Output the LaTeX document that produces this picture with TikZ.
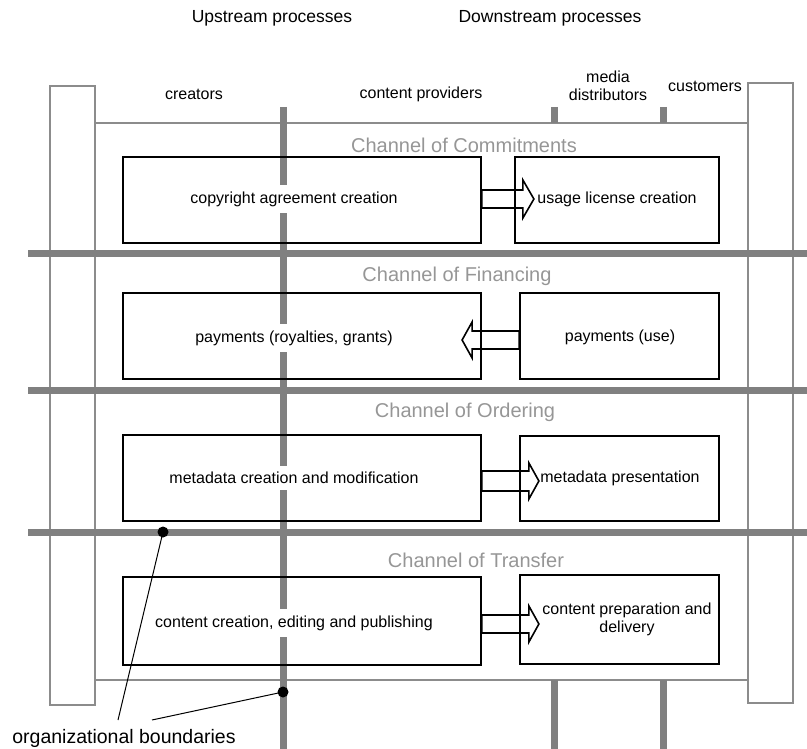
\documentclass[tikz,border=0pt]{standalone}
\usepackage{fontspec}
\setmainfont{Liberation Sans}
\usetikzlibrary{backgrounds}
\definecolor{bargray}{RGB}{128,128,128}
\definecolor{framegray}{RGB}{140,140,140}
\definecolor{titlegray}{RGB}{150,150,150}

\begin{document}
\begin{tikzpicture}[x=1pt,y=-1pt,
    frame/.style={draw=framegray,line width=1.8pt},
    boundary/.style={draw=bargray,line width=7pt},
    process/.style={draw=black,line width=1.8pt,inner sep=0pt,minimum height=86pt},
    lbl/.style={font=\fontsize{16}{18}\selectfont,align=center,inner sep=1pt},
    online/.style={lbl,fill=white,inner ysep=6.5pt},
    chan/.style={font=\fontsize{20}{24}\selectfont,text=titlegray},
    head/.style={font=\fontsize{17.5}{21}\selectfont},
    flow/.style={draw=black,line width=1.6pt,fill=white,line join=miter}]
    \useasboundingbox (0,0) rectangle (807,749);

    % organisations frame
    \draw[frame] (50,86) rectangle (95,705);
    \draw[frame] (748,83) rectangle (793,703);
    \draw[frame] (95,123) -- (748,123);
    \draw[frame] (95,680) -- (748,680);

    % organizational boundaries
    \foreach \y in {254,390,532}
        \draw[boundary] (28,\y) -- (807,\y);
    \draw[boundary] (283,107) -- (283,749);
    \foreach \x in {554,663} {
        \draw[boundary] (\x,107) -- (\x,123);
        \draw[boundary] (\x,680) -- (\x,749);
    }

    % processes
    \node[process,minimum width=358pt] (copyright) at (302,200) {};
    \node[process,minimum width=204pt] (usage) at (617,200) {};
    \node[process,minimum width=358pt] (royalties) at (302,336) {};
    \node[process,minimum width=199pt] (use) at (619.5,336) {};
    \node[process,minimum width=358pt] (metacreate) at (302,478) {};
    \node[process,minimum width=199pt,minimum height=85pt] (metashow) at (619.5,478.5) {};
    \node[process,minimum width=358pt,minimum height=88pt] (content) at (302,621) {};
    \node[process,minimum width=199pt,minimum height=89pt] (delivery) at (619.5,619.5) {};

    % flows between processes
    \begin{scope}[on background layer]
    \path[flow] (copyright.east) ++(0,-1) ++(0,-9) -- ++(41,0) -- ++(0,-10) -- ++(11,19)
        -- ++(-11,19) -- ++(0,-10) -- ++(-41,0) -- cycle;
    \path[flow] (use.west) ++(0,4) ++(0,-9) -- ++(-47,0) -- ++(0,-9) -- ++(-10,18)
        -- ++(10,18) -- ++(0,-9) -- ++(47,0) -- cycle;
    \path[flow] (metacreate.east) ++(0,3) ++(0,-10) -- ++(47,0) -- ++(0,-8) -- ++(10,18)
        -- ++(-10,18) -- ++(0,-8) -- ++(-47,0) -- cycle;
    \path[flow] (content.east) ++(0,3) ++(0,-9) -- ++(47,0) -- ++(0,-9) -- ++(10,18)
        -- ++(-10,18) -- ++(0,-9) -- ++(-47,0) -- cycle;
    \end{scope}

    % process texts
    \node[online] (copyright-txt) at (294,199) {copyright agreement creation};
    \node[lbl] (usage-txt) at (617,199) {usage license creation};
    \node[online] (royalties-txt) at (294,338) {payments (royalties, grants)};
    \node[lbl] (use-txt) at (620,337) {payments (use)};
    \node[online] (metacreate-txt) at (294,478) {metadata creation and modification};
    \node[lbl] (metashow-txt) at (620,478) {metadata presentation};
    \node[online] (content-txt) at (294,623) {content creation, editing and publishing};
    \node[lbl] (delivery-txt) at (627,619.5) {content preparation and\\delivery};

    % channels
    \node[chan] (commitments) at (464,145) {Channel of Commitments};
    \node[chan] (financing) at (457,276) {Channel of Financing};
    \node[chan] (ordering) at (465,412) {Channel of Ordering};
    \node[chan] (transfer) at (476,560) {Channel of Transfer};

    % actors and process groups
    \node[head] (upstream) at (272,18) {Upstream processes};
    \node[head] (downstream) at (550,18) {Downstream processes};
    \node[lbl] (creators) at (194,94) {creators};
    \node[lbl] (providers) at (421,94) {content providers};
    \node[lbl] (distributors) at (608,86) {media\\distributors};
    \node[lbl] (customers) at (705,86) {customers};

    % legend
    \node[font=\fontsize{19.5}{23}\selectfont] (orgb) at (124,738) {organizational boundaries};
    \coordinate (dot1) at (163,532);
    \coordinate (dot2) at (283,692);
    \coordinate (lead1) at (118,720);
    \coordinate (lead2) at (152,720);
    \draw[line width=1pt] (lead1) -- (dot1);
    \draw[line width=1pt] (lead2) -- (dot2);
    \fill (dot1) circle (5.5pt);
    \fill (dot2) circle (5.5pt);
\end{tikzpicture}
\end{document}
